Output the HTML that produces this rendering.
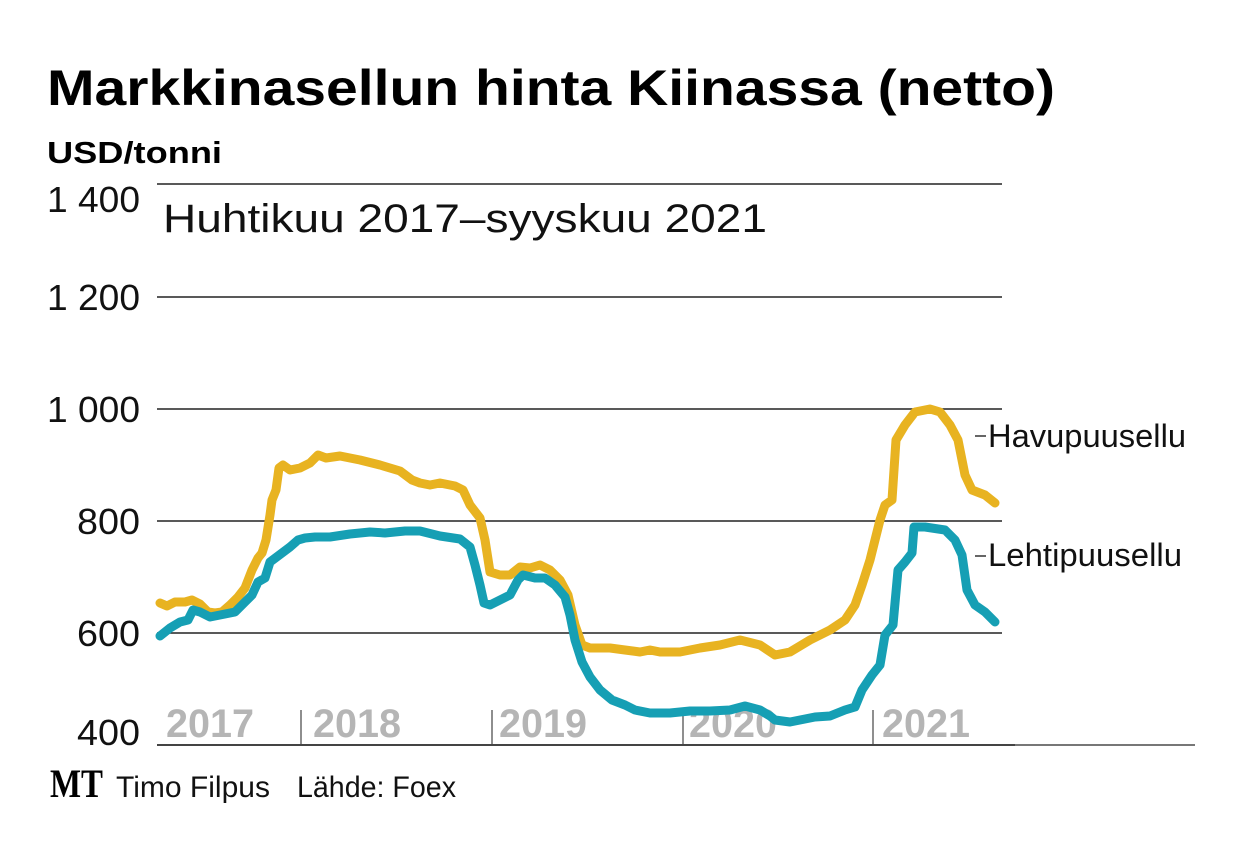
<!DOCTYPE html>
<html><head><meta charset="utf-8"><style>body{margin:0;background:#fff}svg{display:block}</style></head>
<body>
<svg width="1240" height="854" viewBox="0 0 1240 854" xmlns="http://www.w3.org/2000/svg" font-family="Liberation Sans, sans-serif">
<rect width="1240" height="854" fill="#fff"/>
<text x="47" y="105" font-size="50" font-weight="bold" textLength="1008" lengthAdjust="spacingAndGlyphs">Markkinasellun hinta Kiinassa (netto)</text>
<text x="47" y="163" font-size="31" font-weight="bold" textLength="175" lengthAdjust="spacingAndGlyphs">USD/tonni</text>
<g stroke="#222" stroke-width="1.5">
<line x1="157" y1="184" x2="1002" y2="184"/>
<line x1="157" y1="297" x2="1002" y2="297"/>
<line x1="157" y1="409" x2="1002" y2="409"/>
<line x1="157" y1="521" x2="1002" y2="521"/>
<line x1="157" y1="633" x2="1002" y2="633"/>
</g>
<line x1="157" y1="745" x2="1015" y2="745" stroke="#444" stroke-width="2"/>
<line x1="1015" y1="745" x2="1195" y2="745" stroke="#777" stroke-width="2"/>
<g stroke="#444" stroke-width="1.2">
<line x1="301" y1="710" x2="301" y2="745"/><line x1="492" y1="710" x2="492" y2="745"/>
<line x1="683" y1="710" x2="683" y2="745"/><line x1="873" y1="710" x2="873" y2="745"/>
</g>
<g font-size="36" text-anchor="end" fill="#111">
<text x="140" y="212" textLength="93" lengthAdjust="spacingAndGlyphs">1 400</text>
<text x="140" y="310" textLength="93" lengthAdjust="spacingAndGlyphs">1 200</text>
<text x="140" y="422" textLength="93" lengthAdjust="spacingAndGlyphs">1 000</text>
<text x="140" y="534" textLength="63" lengthAdjust="spacingAndGlyphs">800</text>
<text x="140" y="646" textLength="63" lengthAdjust="spacingAndGlyphs">600</text>
<text x="140" y="745" textLength="63" lengthAdjust="spacingAndGlyphs">400</text>
</g>
<text x="163" y="232" font-size="40" fill="#111" textLength="604" lengthAdjust="spacingAndGlyphs">Huhtikuu 2017–syyskuu 2021</text>
<g font-size="40" font-weight="bold" fill="#b5b5b5">
<text x="166" y="737" textLength="88" lengthAdjust="spacingAndGlyphs">2017</text>
<text x="313" y="737" textLength="88" lengthAdjust="spacingAndGlyphs">2018</text>
<text x="499" y="737" textLength="88" lengthAdjust="spacingAndGlyphs">2019</text>
<text x="689" y="737" textLength="88" lengthAdjust="spacingAndGlyphs">2020</text>
<text x="882" y="737" textLength="88" lengthAdjust="spacingAndGlyphs">2021</text>
</g>
<g fill="none" stroke-width="9" stroke-linejoin="round" stroke-linecap="round">
<polyline stroke="#e8b321" points="160,603 167,606 175,602 185,602 192,600 200,604 208,612 215,613 222,612 230,605 238,597 245,588 252,570 258,558 262,553 266,540 270,515 272,500 276,490 279,468 283,465 290,470 300,468 310,463 318,455 326,458 340,456 360,460 380,465 400,471 412,480 420,483 430,485 440,483 455,486 463,490 470,505 480,518 485,540 490,572 500,575 510,575 520,567 530,568 540,565 550,570 560,580 568,595 575,625 582,645 590,648 610,648 625,650 640,652 650,650 660,652 680,652 700,648 720,645 740,640 760,645 775,655 790,652 810,640 830,630 845,620 855,605 862,585 870,560 880,520 885,505 892,500 896,440 905,425 915,412 930,409 940,412 950,425 958,440 965,475 972,490 985,495 995,503"/>
<polyline stroke="#169fb4" points="160,636 170,628 180,622 188,620 193,610 200,612 210,617 225,614 235,612 245,602 252,595 258,582 265,578 270,562 278,556 290,547 298,540 305,538 315,537 330,537 350,534 370,532 385,533 405,531 420,531 440,536 460,539 470,547 475,565 480,585 484,603 490,605 500,600 510,595 518,580 523,575 535,578 545,578 555,585 565,597 570,615 575,640 582,662 590,677 600,690 612,700 625,705 635,710 650,713 670,713 690,711 710,711 730,710 745,706 760,710 770,716 775,720 790,722 800,720 815,717 830,716 845,710 855,707 862,690 872,675 880,665 885,635 893,625 898,570 905,562 912,553 914,527 925,527 945,530 955,540 962,555 967,590 975,605 985,612 995,622"/>
</g>
<line x1="975" y1="436" x2="986" y2="436" stroke="#333" stroke-width="1.5"/>
<line x1="975" y1="556" x2="986" y2="556" stroke="#333" stroke-width="1.5"/>
<text x="988" y="447" font-size="32" fill="#111" textLength="198" lengthAdjust="spacingAndGlyphs">Havupuusellu</text>
<text x="988" y="566" font-size="32" fill="#111" textLength="194" lengthAdjust="spacingAndGlyphs">Lehtipuusellu</text>
<text x="50" y="797" font-size="40" font-weight="bold" font-family="Liberation Serif, serif" textLength="53" lengthAdjust="spacingAndGlyphs">MT</text>
<text x="116" y="797" font-size="30" fill="#111" textLength="154" lengthAdjust="spacingAndGlyphs">Timo Filpus</text>
<text x="297" y="797" font-size="30" fill="#111" textLength="159" lengthAdjust="spacingAndGlyphs">Lähde: Foex</text>
</svg>
</body></html>
